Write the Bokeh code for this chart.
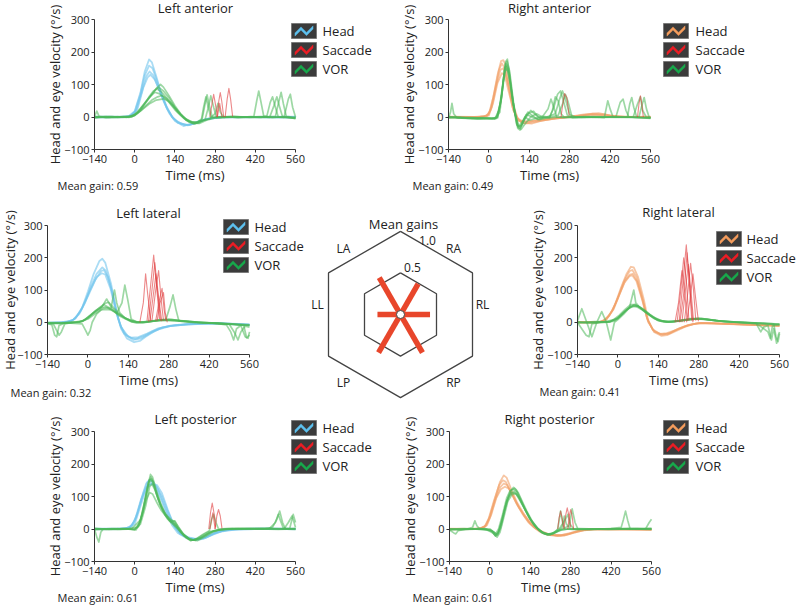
import math
from bokeh.plotting import figure
from bokeh.models import Range1d, FixedTicker, Label, PolyAnnotation
from bokeh.layouts import column, row
from bokeh.embed import file_html
from bokeh.resources import INLINE
from bokeh.core.properties import value

FONT = "Open Sans"

XTICKS = [-140, 0, 140, 280, 420, 560]
XTICK_LABELS = ["\u2212140", "0", "140", "280", "420", "560"]
YTICKS = [-100, 0, 100, 200, 300]
YTICK_LABELS = ["\u2212100", "0", "100", "200", "300"]

# ---------------- data: (time ms, velocity deg/s) -----------------
LA_HEAD = [
    [(-140,0),(-80,1),(-40,0),(-20,3),(0,18),(20,75),(35,140),(50,177),(60,168),(75,125),(90,80),(110,35),(130,0),(150,-15),(175,-25),(200,-22),(230,-12),(260,-4),(300,0),(560,-2)],
    [(-140,-2),(-60,0),(-20,2),(0,15),(20,70),(35,128),(50,158),(62,150),(78,110),(95,65),(115,22),(135,-5),(160,-20),(190,-25),(220,-15),(260,-5),(310,0),(560,-1)],
    [(-140,1),(-50,0),(-15,3),(5,20),(25,78),(40,125),(52,140),(65,128),(80,95),(100,50),(120,12),(140,-12),(170,-28),(200,-20),(240,-8),(300,-1),(560,0)],
    [(-140,0),(-40,-1),(-10,4),(10,25),(30,90),(45,122),(55,130),(70,115),(90,75),(110,30),(130,2),(150,-18),(185,-26),(215,-18),(250,-6),(300,0),(560,1)],
]
LA_VOR = [
    [(-140,2),(-132,18),(-124,2),(-100,-2),(-60,1),(-20,-1),(0,5),(20,20),(40,45),(60,70),(80,92),(90,100),(100,92),(120,65),(140,35),(160,10),(180,-8),(200,-15),(220,-14),(235,-5),(245,40),(252,68),(260,35),(270,0),(300,-2),(340,2),(380,0),(415,2),(425,50),(432,80),(440,45),(450,0),(480,-2),(520,1),(560,-5)],
    [(-140,-3),(-110,0),(-60,-2),(-20,1),(0,8),(20,25),(40,48),(60,70),(75,88),(85,90),(100,80),(120,58),(140,30),(160,8),(180,-10),(200,-18),(220,-20),(245,-8),(255,25),(265,65),(275,30),(285,-2),(320,1),(360,-2),(400,0),(460,2),(472,45),(480,62),(490,30),(500,0),(540,-2),(560,-4)],
    [(-140,0),(-90,-2),(-40,1),(-10,0),(10,15),(30,38),(50,60),(70,76),(85,72),(100,62),(120,45),(140,22),(160,5),(180,-10),(205,-20),(230,-12),(260,-6),(280,10),(290,42),(298,15),(310,-2),(360,0),(420,-1),(470,-1),(485,35),(495,62),(505,30),(515,0),(560,-3)],
    [(-140,-2),(-80,1),(-30,-1),(0,4),(20,18),(40,36),(60,52),(80,62),(95,66),(110,58),(130,40),(150,18),(170,0),(190,-14),(215,-18),(240,-10),(270,-3),(300,1),(360,-1),(440,0),(490,2),(500,40),(510,76),(518,40),(528,2),(560,-2)],
    [(-140,1),(-70,0),(-20,2),(0,6),(25,22),(50,40),(75,52),(100,56),(115,50),(135,32),(155,12),(175,-4),(200,-16),(225,-20),(250,-10),(280,-3),(330,1),(400,-1),(460,0),(560,-2)],
    [(-140,0),(-100,2),(-50,0),(-10,2),(10,12),(30,35),(50,62),(65,80),(78,86),(92,78),(110,60),(130,38),(150,15),(170,-3),(190,-16),(210,-22),(232,-10),(240,30),(248,62),(256,30),(265,0),(300,-1),(350,1),(400,0),(440,-1),(455,3),(465,0),(520,-1),(535,55),(542,70),(550,30),(560,0)],
]
LA_SACC = [
    [(262,0),(270,45),(275,70),(280,45),(288,2)],
    [(286,0),(293,50),(298,75),(303,50),(310,0)],
    [(315,0),(322,55),(328,88),(334,55),(341,2)],
    [(288,0),(296,42),(304,0)],
]

RA_HEAD = [
    [(-140,0),(-60,-2),(-20,0),(0,10),(15,60),(30,130),(42,172),(50,175),(58,160),(70,100),(85,35),(100,-5),(120,-15),(150,-12),(190,-10),(230,-5),(280,0),(320,5),(360,10),(400,8),(440,2),(500,0),(560,-2)],
    [(-140,-1),(-40,0),(-10,2),(5,20),(20,80),(35,145),(45,165),(55,150),(68,95),(82,30),(98,-10),(125,-20),(160,-15),(200,-8),(260,-2),(330,8),(380,12),(420,5),(470,0),(560,0)],
    [(-140,1),(-50,0),(-5,3),(10,30),(25,95),(40,145),(50,150),(62,120),(78,55),(95,0),(115,-18),(150,-20),(190,-10),(240,-3),(300,3),(360,8),(410,4),(480,0),(560,1)],
    [(-140,0),(-30,1),(0,5),(15,45),(30,105),(45,135),(55,128),(68,80),(85,20),(105,-12),(140,-14),(180,-8),(230,-2),(300,0),(350,6),(400,6),(450,0),(560,0)],
]
RA_VOR = [
    [(-140,-2),(-133,15),(-128,42),(-122,10),(-110,-3),(-60,-5),(-20,-4),(0,-5),(20,-6),(35,20),(48,100),(58,170),(64,178),(72,130),(85,40),(100,-35),(108,-40),(120,-10),(135,15),(150,5),(170,-8),(190,0),(210,-3),(225,30),(238,70),(248,80),(258,50),(272,5),(290,-2),(330,0),(400,-2),(412,50),(420,25),(430,0),(480,-1),(560,-3)],
    [(-140,0),(-80,-3),(-30,-5),(10,-4),(28,-2),(40,40),(52,130),(60,165),(68,150),(80,70),(95,-20),(105,-35),(118,-20),(130,5),(145,20),(160,8),(180,-5),(200,0),(230,10),(245,55),(255,80),(265,55),(280,8),(300,0),(360,1),(440,0),(455,45),(465,55),(475,20),(485,0),(560,-4)],
    [(-140,-3),(-100,-1),(-40,-6),(0,-3),(25,-5),(42,50),(55,150),(62,160),(72,110),(88,20),(102,-30),(112,-25),(125,0),(140,-10),(160,-5),(185,2),(210,0),(220,20),(230,62),(240,50),(250,10),(260,0),(320,-2),(420,0),(480,0),(488,40),(495,60),(502,30),(512,0),(560,-2)],
    [(-140,1),(-70,-4),(-20,-2),(20,-6),(38,15),(50,110),(60,155),(70,135),(82,50),(98,-25),(110,-30),(125,-5),(140,12),(155,18),(170,0),(200,-2),(240,5),(255,40),(265,70),(275,45),(288,0),(330,1),(400,-1),(500,0),(515,40),(525,62),(533,20),(545,0),(560,-2)],
    [(-140,-2),(-90,-3),(-40,-4),(10,-5),(30,0),(45,70),(56,140),(64,150),(75,100),(90,10),(104,-28),(115,-15),(130,8),(150,0),(175,-8),(200,-3),(250,0),(300,-1),(380,0),(450,-1),(520,0),(530,35),(538,60),(546,25),(555,0),(560,-2)],
    [(-140,0),(-60,-2),(0,-4),(30,-3),(44,60),(56,160),(63,172),(72,140),(86,40),(100,-30),(112,-38),(128,-18),(145,0),(165,10),(185,0),(205,25),(215,55),(225,30),(235,0),(260,-2),(340,0),(420,0),(470,0),(560,-3)],
]
RA_SACC = [
    [(250,0),(256,40),(262,72),(270,60),(278,5)],
    [(515,0),(520,40),(525,65),(530,40),(535,0)],
]

LL_HEAD = [
    [(-140,-3),(-100,-2),(-60,2),(-40,15),(-20,45),(0,95),(20,150),(40,190),(50,197),(60,185),(80,120),(100,30),(115,-20),(135,-50),(160,-62),(180,-58),(200,-45),(230,-28),(260,-16),(300,-10),(350,-6),(400,-3),(450,-2),(500,-5),(560,-8)],
    [(-140,-2),(-90,0),(-55,5),(-30,25),(-10,60),(10,110),(30,150),(50,170),(62,160),(80,108),(98,35),(115,-15),(140,-45),(165,-52),(190,-44),(220,-30),(250,-18),(290,-10),(340,-6),(400,-4),(460,-3),(510,-6),(560,-8)],
    [(-140,-4),(-80,-1),(-50,8),(-25,35),(0,80),(25,130),(45,158),(55,162),(70,140),(88,80),(105,10),(125,-35),(150,-48),(175,-46),(205,-35),(240,-20),(280,-12),(330,-8),(380,-5),(450,-4),(520,-7),(560,-9)],
    [(-140,-1),(-70,1),(-45,10),(-20,45),(5,95),(30,140),(48,152),(60,148),(78,105),(95,40),(112,-10),(132,-40),(158,-55),(185,-50),(215,-35),(245,-22),(285,-12),(340,-7),(420,-4),(490,-4),(560,-6)],
]
LL_VOR = [
    [(-140,-3),(-125,-8),(-115,-40),(-108,-45),(-100,-10),(-80,-2),(-40,0),(-20,3),(0,15),(20,30),(40,45),(55,55),(65,50),(80,42),(92,100),(100,60),(110,30),(130,12),(150,2),(170,-2),(200,0),(240,5),(270,8),(285,50),(295,85),(305,40),(315,5),(360,2),(400,-2),(450,-4),(480,-8),(495,-30),(505,-55),(515,-20),(530,-10),(545,-45),(555,-50),(560,-30)],
    [(-140,-2),(-100,-4),(-60,-2),(-30,0),(-10,8),(10,22),(30,38),(50,50),(65,72),(80,48),(100,28),(118,60),(128,115),(138,70),(150,10),(170,0),(200,2),(240,6),(280,10),(320,5),(380,0),(440,-3),(500,-6),(560,-9)],
    [(-140,-4),(-90,-2),(-40,1),(-15,5),(5,20),(25,34),(45,44),(60,48),(80,40),(100,28),(125,15),(150,5),(180,0),(220,3),(260,8),(300,6),(350,2),(420,-2),(470,-5),(520,-8),(560,-10)],
    [(-140,-2),(-60,-3),(-20,-5),(-8,-25),(0,-40),(8,-25),(15,0),(30,25),(50,42),(68,45),(85,38),(105,22),(130,10),(155,0),(190,-2),(230,4),(270,7),(310,4),(370,-1),(430,-3),(490,-6),(510,-35),(520,-55),(530,-30),(545,-12),(560,-15)],
    [(-140,-3),(-120,-5),(-100,-40),(-92,-30),(-80,-5),(-50,0),(-20,2),(0,12),(20,28),(40,40),(58,58),(72,62),(90,44),(110,26),(130,12),(160,2),(200,0),(250,6),(300,5),(360,0),(420,-2),(480,-5),(560,-8)],
    [(-140,-1),(-80,-2),(-30,1),(0,10),(25,26),(45,38),(62,40),(80,38),(98,30),(120,18),(145,6),(175,0),(210,3),(250,7),(290,8),(330,4),(390,0),(450,-3),(500,-5),(540,-10),(550,-48),(560,-40)],
]
LL_SACC = [
    [(180,0),(192,60),(200,150),(208,80),(218,5)],
    [(205,5),(218,120),(228,208),(238,110),(248,10)],
    [(210,2),(222,100),(232,185),(242,90),(252,5)],
    [(222,5),(235,100),(245,160),(255,60),(262,5)],
    [(235,5),(248,70),(257,105),(264,40),(270,5)],
    [(215,3),(226,80),(236,150),(246,70),(256,3)],
    [(240,5),(250,60),(262,92),(268,30),(275,0)],
]

RL_HEAD = [
    [(-140,0),(-80,-1),(-55,3),(-30,20),(-10,55),(10,105),(30,150),(45,172),(55,170),(70,140),(90,70),(105,5),(125,-30),(150,-42),(170,-40),(200,-28),(230,-15),(260,-6),(290,-2),(330,-3),(400,-6),(460,-8),(520,-10),(560,-11)],
    [(-140,-1),(-70,0),(-45,6),(-20,35),(0,75),(20,125),(40,158),(50,162),(65,140),(85,75),(100,15),(120,-22),(145,-36),(170,-34),(200,-24),(235,-12),(270,-4),(310,-3),(380,-5),(450,-7),(560,-10)],
    [(-140,1),(-60,1),(-40,8),(-15,40),(5,85),(25,128),(42,148),(52,150),(68,125),(88,60),(105,0),(128,-30),(155,-38),(180,-34),(210,-20),(245,-8),(285,-2),(340,-4),(420,-6),(500,-9),(560,-10)],
    [(-140,0),(-65,0),(-42,7),(-18,38),(2,80),(22,122),(40,143),(50,145),(64,128),(84,70),(102,10),(122,-25),(148,-38),(175,-36),(205,-22),(240,-10),(280,-3),(340,-4),(430,-7),(560,-12)],
]
RL_VOR = [
    [(-140,5),(-125,42),(-108,0),(-90,-45),(-73,0),(-56,33),(-40,0),(-25,-55),(-12,0),(0,8),(20,25),(40,45),(55,100),(62,60),(80,42),(100,28),(120,15),(140,5),(170,0),(200,3),(240,8),(280,12),(320,8),(360,3),(400,0),(450,-2),(480,-5),(495,-30),(505,-15),(520,-10),(532,-55),(540,-20),(550,-65),(556,-40),(560,-30)],
    [(-140,0),(-100,-2),(-60,1),(-30,0),(-10,5),(10,20),(30,38),(50,50),(65,48),(85,38),(105,25),(125,12),(150,3),(180,0),(220,5),(260,10),(300,9),(340,5),(400,1),(460,-2),(520,-5),(560,-6)],
    [(-140,-2),(-90,0),(-40,2),(-15,8),(5,22),(25,40),(45,55),(60,55),(78,45),(100,30),(120,17),(145,6),(175,1),(210,5),(250,11),(290,12),(330,6),(380,2),(440,-2),(500,-4),(560,-7)],
    [(-140,1),(-120,0),(-80,2),(-30,1),(0,12),(20,30),(40,46),(55,52),(70,50),(92,36),(112,22),(135,8),(160,2),(195,2),(235,7),(275,11),(315,8),(370,2),(430,0),(480,-3),(520,-30),(528,-50),(536,-10),(560,-8)],
    [(-140,-1),(-110,-40),(-100,-45),(-90,-5),(-60,0),(-25,3),(0,14),(22,32),(42,48),(58,55),(75,47),(95,33),(118,18),(140,6),(170,1),(210,4),(250,9),(290,10),(340,5),(400,1),(450,-1),(500,-3),(540,-5),(548,-45),(555,-60),(560,-35)],
    [(-140,0),(-70,-2),(-35,0),(-5,10),(15,26),(35,42),(55,50),(72,49),(90,40),(110,25),(132,12),(155,4),(190,2),(230,6),(270,10),(310,9),(350,4),(410,0),(470,-2),(530,-4),(560,-6)],
]
RL_SACC = [
    [(198,0),(210,60),(222,160),(232,90),(240,5)],
    [(205,0),(217,90),(228,200),(238,120),(246,5)],
    [(212,0),(225,120),(237,240),(247,130),(256,5)],
    [(222,0),(234,100),(244,180),(254,90),(262,5)],
    [(230,0),(242,90),(252,183),(262,100),(270,5)],
    [(238,0),(250,70),(260,150),(270,70),(279,3)],
    [(215,0),(227,80),(240,215),(250,100),(260,0)],
]

LP_HEAD = [
    [(-140,0),(-60,1),(-20,3),(0,25),(20,85),(40,140),(52,152),(65,145),(80,125),(100,80),(120,35),(140,5),(160,-15),(190,-28),(220,-32),(250,-25),(280,-12),(320,-3),(380,0),(460,2),(560,0)],
    [(-140,1),(-50,0),(-15,5),(5,35),(25,95),(45,135),(60,138),(78,135),(95,110),(115,60),(135,15),(155,-10),(185,-25),(215,-32),(245,-28),(275,-15),(310,-5),(360,0),(440,1),(560,-1)],
    [(-140,-1),(-40,0),(-10,8),(10,50),(30,110),(45,145),(55,148),(70,130),(90,95),(110,50),(130,12),(150,-12),(180,-28),(210,-34),(240,-30),(270,-18),(300,-8),(350,-2),(420,0),(560,0)],
    [(-140,0),(-30,2),(0,15),(20,70),(40,125),(58,140),(75,130),(95,100),(115,55),(135,15),(158,-15),(190,-30),(225,-30),(255,-20),(290,-8),(340,-1),(440,0),(560,1)],
]
LP_VOR = [
    [(-140,0),(-132,-25),(-125,-40),(-118,-10),(-110,0),(-60,1),(-20,0),(0,-2),(15,10),(30,60),(45,130),(55,168),(62,160),(75,120),(90,80),(105,50),(120,30),(135,22),(145,10),(160,-10),(180,-28),(195,-36),(215,-30),(240,-15),(260,-5),(268,30),(275,45),(283,20),(292,0),(330,2),(400,1),(450,0),(480,5),(495,30),(505,55),(515,20),(525,0),(560,1)],
    [(-140,2),(-100,0),(-50,-1),(0,0),(18,20),(32,75),(47,140),(56,160),(65,145),(80,100),(95,65),(110,40),(125,22),(140,25),(150,8),(170,-18),(190,-32),(210,-34),(235,-20),(260,-8),(300,-2),(360,1),(430,0),(500,-1),(560,0)],
    [(-140,-1),(-80,1),(-30,0),(5,-3),(20,25),(35,85),(50,150),(58,155),(68,130),(82,90),(98,55),(115,30),(132,15),(150,0),(170,-20),(195,-35),(225,-30),(250,-18),(275,-6),(310,0),(380,1),(460,2),(520,0),(535,20),(548,40),(555,20),(560,5)],
    [(-140,0),(-90,-2),(-40,1),(0,-1),(20,15),(38,70),(52,130),(60,138),(72,118),(88,75),(105,45),(122,25),(140,15),(155,-2),(175,-22),(200,-34),(230,-28),(255,-14),(280,-5),(320,0),(400,0),(470,2),(490,20),(500,45),(508,25),(518,2),(560,1)],
    [(-140,1),(-110,0),(-60,-1),(-10,1),(22,30),(40,90),(52,112),(62,108),(78,80),(92,58),(110,38),(128,22),(145,8),(165,-12),(188,-30),(212,-35),(238,-22),(262,-10),(290,-3),(340,1),(420,0),(500,1),(540,2),(552,45),(560,20)],
    [(-140,-2),(-70,0),(-20,2),(10,5),(28,50),(42,110),(54,150),(62,148),(75,110),(92,70),(108,45),(128,28),(138,24),(148,12),(168,-14),(192,-32),(218,-36),(245,-24),(270,-10),(295,-3),(340,0),(420,2),(500,0),(560,-1)],
]
LP_SACC = [
    [(258,0),(264,50),(270,80),(276,50),(282,5)],
    [(280,0),(286,40),(292,60),(298,40),(304,2)],
    [(262,0),(272,50),(280,0)],
]

RP_HEAD = [
    [(-140,0),(-60,1),(-30,2),(-15,10),(0,40),(20,100),(35,145),(48,165),(58,158),(75,120),(95,80),(115,50),(135,25),(155,8),(175,-5),(200,-15),(230,-20),(260,-20),(290,-12),(320,-5),(360,-1),(440,0),(560,-2)],
    [(-140,-1),(-50,0),(-20,5),(-5,30),(15,90),(32,135),(45,150),(55,145),(72,115),(92,78),(112,48),(132,22),(152,5),(172,-8),(200,-18),(235,-22),(265,-18),(295,-10),(330,-3),(380,0),(470,-1),(560,-3)],
    [(-140,1),(-40,0),(-15,8),(0,35),(18,88),(35,128),(48,140),(60,135),(78,105),(98,70),(118,42),(138,18),(158,2),(180,-10),(210,-18),(245,-20),(275,-14),(305,-6),(350,-1),(420,0),(560,-2)],
    [(-140,0),(-35,1),(-10,12),(5,45),(22,95),(38,122),(52,130),(65,125),(82,98),(102,65),(122,38),(142,15),(162,0),(185,-12),(215,-18),(250,-18),(280,-12),(315,-4),(360,0),(560,-1)],
]
RP_VOR = [
    [(-140,-3),(-125,-12),(-118,-15),(-110,-5),(-80,0),(-60,5),(-52,25),(-45,10),(-35,0),(0,-2),(10,-10),(20,-22),(28,-15),(40,20),(55,75),(70,115),(82,128),(92,120),(105,95),(120,65),(140,30),(160,5),(180,-12),(200,-18),(220,-14),(235,0),(245,55),(252,20),(260,0),(300,-2),(350,0),(420,1),(455,5),(463,30),(470,55),(478,25),(486,0),(540,1),(552,20),(560,30)],
    [(-140,0),(-100,-2),(-40,1),(0,0),(12,-8),(22,-18),(32,-5),(45,40),(60,90),(75,120),(85,125),(98,112),(112,85),(128,55),(148,22),(168,0),(188,-15),(208,-18),(228,-10),(250,5),(258,40),(265,15),(280,0),(320,-1),(400,0),(480,1),(560,0)],
    [(-140,-2),(-80,-1),(-20,0),(5,-5),(18,-20),(28,-12),(42,25),(58,85),(72,110),(84,115),(95,105),(110,80),(125,55),(145,25),(165,2),(185,-12),(205,-16),(225,-10),(245,-2),(275,10),(285,62),(295,20),(305,0),(350,-1),(420,1),(500,0),(560,1)],
    [(-140,-1),(-60,0),(-10,-2),(10,-12),(25,-25),(35,-10),(48,35),(62,85),(76,105),(88,110),(100,98),(115,72),(132,42),(152,12),(172,-5),(195,-16),(215,-14),(240,0),(262,30),(270,45),(278,15),(290,0),(340,-1),(430,0),(510,1),(560,0)],
    [(-140,0),(-90,1),(-30,-1),(8,-6),(20,-15),(30,0),(44,45),(58,95),(70,118),(80,122),(92,115),(106,90),(122,60),(140,30),(160,6),(180,-10),(202,-18),(225,-12),(248,-2),(280,0),(330,0),(410,-1),(490,0),(560,-1)],
    [(-140,-2),(-70,0),(-15,1),(15,-10),(26,-18),(38,5),(52,60),(66,100),(78,112),(90,108),(104,88),(120,62),(138,32),(158,8),(178,-8),(200,-16),(222,-12),(244,-4),(270,0),(310,1),(380,0),(460,1),(560,2)],
]
RP_SACC = [
    [(235,0),(240,35),(245,55),(250,35),(255,5)],
    [(256,0),(262,40),(268,65),(274,40),(280,5)],
    [(270,0),(275,40),(280,60),(285,40),(290,0)],
]

RADAR_LABELS = ["LA", "RA", "LL", "RL", "LP", "RP"]
RADAR_GAINS = [0.59, 0.49, 0.32, 0.41, 0.61, 0.61]
RADAR_ANGLES = [120, 60, 180, 0, 240, 300]

# ---------------- styling -----------------
BLUE = "#72c4ec"
ORANGE = "#f2a067"
RED = "#e0383a"
GREEN = "#4cb85a"
ICON_BLUE = "#5cc0ee"
ICON_ORANGE = "#f49c5c"
ICON_RED = "#ec1c24"
ICON_GREEN = "#17a84b"
TXT = "#222222"


def make_panel(figbox, frame, title, title_xy, gain, gain_xy, head, vor, sacc,
               head_color, icon_head, legend_xy, legend_text_x, ylab_standoff=-3):
    fl, ft, fr, fb = figbox
    L, T, R, B = frame

    def d(rx, ry):
        return (-140 + (rx - L) * 700.0 / (R - L), 300 - (ry - T) * 400.0 / (B - T))

    p = figure(width=fr - fl, height=fb - ft,
               x_range=Range1d(d(fl, 0)[0], d(fr, 0)[0]),
               y_range=Range1d(d(0, fb)[1], d(0, ft)[1]),
               output_backend="svg", toolbar_location=None, min_border=0,
               title=None)
    p.outline_line_color = None
    p.grid.visible = False
    p.xaxis.fixed_location = -100
    p.yaxis.fixed_location = -140
    p.xaxis.bounds = (-140, 560)
    p.yaxis.bounds = (-100, 300)
    p.xaxis.ticker = FixedTicker(ticks=XTICKS)
    p.yaxis.ticker = FixedTicker(ticks=YTICKS)
    p.xaxis.major_label_overrides = dict(zip(XTICKS, XTICK_LABELS))
    p.yaxis.major_label_overrides = dict(zip(YTICKS, YTICK_LABELS))
    for ax in (p.xaxis[0], p.yaxis[0]):
        ax.minor_tick_line_color = None
        ax.major_tick_in = 0
        ax.major_tick_out = 3
        ax.axis_line_color = "#333333"
        ax.major_tick_line_color = "#333333"
        ax.major_label_text_font = FONT
        ax.major_label_text_font_size = "11px"
        ax.major_label_text_color = TXT
        ax.major_label_standoff = 2
        ax.axis_label_text_font = FONT
        ax.axis_label_text_font_style = "normal"
        ax.axis_label_text_font_size = "13px"
        ax.axis_label_text_color = TXT
    p.xaxis.axis_label = "Time (ms)"
    p.xaxis.axis_label_standoff = 0
    p.yaxis.axis_label = "Head and eye velocity (\u00b0/s)"
    p.yaxis.axis_label_standoff = ylab_standoff

    for tr in head:
        p.line([a for a, _ in tr], [v for _, v in tr], line_color=head_color,
               line_alpha=0.6, line_width=1.8, line_join="round")
    for tr in vor:
        p.line([a for a, _ in tr], [v for _, v in tr], line_color=GREEN,
               line_alpha=0.55, line_width=1.7, line_join="round")
    for tr in sacc:
        p.line([a for a, _ in tr], [v for _, v in tr], line_color=RED,
               line_alpha=0.6, line_width=1.1, line_join="round")

    tx, ty = d(*title_xy)
    p.add_layout(Label(x=tx, y=ty, text=title, text_font=FONT,
                       text_font_size="13px", text_align="center",
                       text_baseline="middle", text_color=TXT))
    gx, gy = d(*gain_xy)
    p.add_layout(Label(x=gx, y=gy, text="Mean gain: %.2f" % gain,
                       text_font=FONT, text_font_size="11px",
                       text_align="left", text_baseline="middle",
                       text_color=TXT))

    bx, by = legend_xy
    items = [("Head", icon_head), ("Saccade", ICON_RED), ("VOR", ICON_GREEN)]
    zz = [(3.5, 11.0), (9.5, 5.0), (15.0, 10.5), (21.5, 4.0)]
    dd = 1.6
    for i, (name, col) in enumerate(items):
        top = by + i * 19
        corners = [(bx, top), (bx + 25, top), (bx + 25, top + 15), (bx, top + 15)]
        pts = [d(x, y) for x, y in corners]
        p.add_layout(PolyAnnotation(xs=[q[0] for q in pts], ys=[q[1] for q in pts],
                                    fill_color="#3b3b3b", fill_alpha=1.0,
                                    line_color="#7a7a7a", line_alpha=1.0,
                                    line_width=1))
        band = [(bx + x, top + y - dd) for x, y in zz] + \
               [(bx + x, top + y + dd) for x, y in reversed(zz)]
        bp = [d(x, y) for x, y in band]
        p.add_layout(PolyAnnotation(xs=[q[0] for q in bp], ys=[q[1] for q in bp],
                                    fill_color=col, fill_alpha=1.0,
                                    line_color=col, line_alpha=1.0, line_width=0.5))
        lx, ly = d(legend_text_x, top + 7.5)
        p.add_layout(Label(x=lx, y=ly, text=name, text_font=FONT,
                           text_font_size="13px", text_align="left",
                           text_baseline="middle", text_color=TXT))
    return p


p_la = make_panel((0, 0, 395, 197), (94, 19, 295, 149), "Left anterior", (195, 7),
                  0.59, (57, 185), LA_HEAD, LA_VOR, LA_SACC, BLUE, ICON_BLUE,
                  (291, 23), 322)
p_ra = make_panel((395, 0, 797, 197), (448, 19, 650, 149), "Right anterior", (549, 7),
                  0.49, (412, 185), RA_HEAD, RA_VOR, RA_SACC, ORANGE, ICON_ORANGE,
                  (663, 23), 695)
p_ll = make_panel((0, 197, 310, 400), (47, 225, 249, 354), "Left lateral", (148, 212),
                  0.32, (10, 392), LL_HEAD, LL_VOR, LL_SACC, BLUE, ICON_BLUE,
                  (223, 219), 254, ylab_standoff=-5)
p_rl = make_panel((490, 197, 797, 400), (577, 225, 779, 354), "Right lateral", (678, 211),
                  0.41, (539, 391), RL_HEAD, RL_VOR, RL_SACC, ORANGE, ICON_ORANGE,
                  (716, 231), 746)
p_lp = make_panel((0, 400, 395, 605), (94, 431, 295, 561), "Left posterior", (195, 418),
                  0.61, (57, 597), LP_HEAD, LP_VOR, LP_SACC, BLUE, ICON_BLUE,
                  (291, 420), 322)
p_rp = make_panel((395, 400, 797, 605), (449, 431, 651, 561), "Right posterior", (549, 418),
                  0.61, (412, 597), RP_HEAD, RP_VOR, RP_SACC, ORANGE, ICON_ORANGE,
                  (663, 420), 695)

# ---------------- radar -----------------
RX0, RY0, RX1, RY1 = 310, 197, 490, 400
CX, CY = 400, 314
UNIT = 72.0
pr = figure(frame_width=RX1 - RX0, frame_height=RY1 - RY0,
            x_range=Range1d((RX0 - CX) / UNIT, (RX1 - CX) / UNIT),
            y_range=Range1d((CY - RY1) / UNIT, (CY - RY0) / UNIT),
            output_backend="svg", toolbar_location=None, title=None,
            x_axis_location=None, y_axis_location=None, min_border=0)
pr.outline_line_color = None
pr.grid.visible = False
for apothem in (1.0, 0.5):
    rv = apothem / math.cos(math.radians(30))
    angs = [90, 30, -30, -90, -150, 150, 90]
    pr.line([rv * math.cos(math.radians(a)) for a in angs],
            [rv * math.sin(math.radians(a)) for a in angs],
            line_color="#444444", line_width=1.3)
pr.segment(x0=[0] * 6, y0=[0] * 6,
           x1=[g * math.cos(math.radians(a)) for g, a in zip(RADAR_GAINS, RADAR_ANGLES)],
           y1=[g * math.sin(math.radians(a)) for g, a in zip(RADAR_GAINS, RADAR_ANGLES)],
           line_color="#e8462b", line_width=5.5, line_cap="butt")
pr.scatter(x=[0], y=[0], size=8, fill_color="white", line_color="#444444", line_width=1)


def rd(rx, ry):
    return ((rx - CX) / UNIT, (CY - ry) / UNIT)


lab_ref = [(343, 248), (453, 248), (317, 304), (482, 304), (343, 382), (453, 382)]
pts = [rd(x, y) for x, y in lab_ref]
pr.text(x=[q[0] for q in pts], y=[q[1] for q in pts], text=RADAR_LABELS,
        text_font=value(FONT), text_font_size="12px", text_align="center",
        text_baseline="middle", text_color=TXT)
extra = [("Mean gains", (403, 223), "13px"), ("1.0", (427, 240), "12px"), ("0.5", (412, 267), "12px")]
for txt, (x, y), fs in extra:
    q = rd(x, y)
    pr.text(x=[q[0]], y=[q[1]], text=[txt], text_font=value(FONT),
            text_font_size=fs, text_align="center", text_baseline="middle",
            text_color=TXT)

layout = column(row(p_la, p_ra), row(p_ll, pr, p_rl), row(p_lp, p_rp))
open("out.html", "w").write(file_html(layout, INLINE))
